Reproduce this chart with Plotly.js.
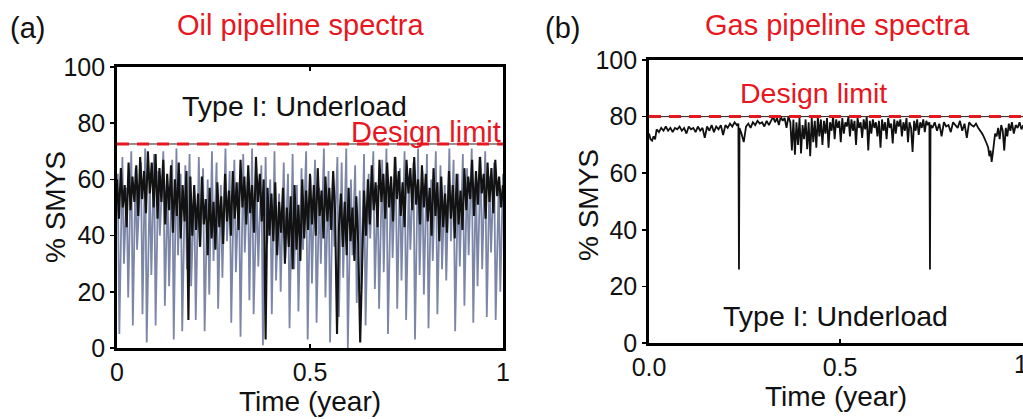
<!DOCTYPE html>
<html>
<head>
<meta charset="utf-8">
<script src="https://cdn.plot.ly/plotly-3.0.1.min.js"></script>
<style>html,body{margin:0;padding:0;background:#fff;}#chart{width:1023px;height:419px;}</style>
</head>
<body>
<div id="chart"></div>
<script>
// ---------- Data ----------
// (a) Oil pipeline: light-grey spikes (time, %SMYS)
const oilLightT = [0.000,
 0.002,0.006, 0.014,0.018, 0.025,0.029, 0.037,0.041, 0.048,0.052, 0.062,0.066, 0.073,0.077, 0.085,0.089, 0.096,0.100, 0.107,0.111,
 0.120,0.124, 0.131,0.135, 0.143,0.147, 0.154,0.158, 0.165,0.169, 0.177,0.181, 0.188,0.192, 0.200,0.204, 0.212,0.216, 0.223,0.227,
 0.235,0.239, 0.246,0.250, 0.258,0.262, 0.269,0.273, 0.281,0.285, 0.292,0.296, 0.304,0.308, 0.316,0.320, 0.327,0.331, 0.339,0.343,
 0.350,0.354, 0.362,0.366, 0.374,0.378, 0.385,0.389, 0.397,0.401, 0.408,0.412, 0.420,0.424, 0.432,0.436, 0.443,0.447, 0.455,0.459,
 0.466,0.470, 0.478,0.482, 0.490,0.494, 0.501,0.505, 0.513,0.517, 0.524,0.528, 0.536,0.540, 0.548,0.552, 0.559,0.563, 0.571,0.575,
 0.582,0.586, 0.594,0.598, 0.606,0.610, 0.617,0.621, 0.629,0.633, 0.640,0.644, 0.652,0.656, 0.664,0.668, 0.675,0.679, 0.687,0.691,
 0.698,0.702, 0.710,0.714, 0.722,0.726, 0.733,0.737, 0.745,0.749, 0.756,0.760, 0.768,0.772, 0.780,0.784, 0.791,0.795, 0.803,0.807,
 0.814,0.818, 0.826,0.830, 0.838,0.842, 0.849,0.853, 0.861,0.865, 0.872,0.876, 0.884,0.888, 0.896,0.900, 0.907,0.911, 0.919,0.923,
 0.930,0.934, 0.942,0.946, 0.954,0.958, 0.965,0.969, 0.977,0.981, 0.989,0.993,
 1.000];
const oilLightV = [52,
 62,5, 68,30, 57,18, 70,8, 64,35, 66,12, 71,2, 60,26, 69,8, 63,40,
 70,15, 58,22, 67,3, 71,33, 62,6, 65,28, 69,22, 56,10, 68,36, 64,6,
 60,19, 70,31, 66,14, 58,25, 71,38, 63,9, 67,27, 59,4, 69,34, 62,17,
 71,12, 57,29, 65,1, 68,37, 60,12, 70,24, 55,20, 66,32, 62,7, 69,28,
 58,13, 64,35, 70,3, 61,23, 67,9, 57,30, 71,18, 63,2, 59,36, 68,11,
 66,25, 71,0, 60,33, 65,16, 56,21, 69,8, 62,39, 70,21, 58,14, 67,27,
 71,5, 61,32, 68,14, 64,24, 70,10, 59,35, 66,3, 71,26, 63,19, 69,7,
 60,31, 70,12, 65,28, 58,24, 71,38, 67,6, 62,29, 69,15, 64,33, 71,9,
 63,22, 68,28, 70,11, 61,34, 66,10, 59,20,
 62];
// (a) Oil pipeline: dense dark core (time, %SMYS)
const oilDarkT = [
 0.000,0.005,0.010,0.015,0.020,0.025,0.030,0.035,0.040,0.045,0.050,0.055,0.060,0.065,0.070,0.075,0.080,0.085,0.090,0.095,
 0.100,0.105,0.110,0.115,0.120,0.125,0.130,0.135,0.140,0.145,0.150,0.155,0.160,0.165,0.170,0.175,0.180,0.185,0.190,0.195,
 0.200,0.205,0.210,0.215,0.220,0.225,0.230,0.235,0.240,0.245,0.250,0.255,0.260,0.265,0.270,0.275,0.280,0.285,0.290,0.295,
 0.300,0.305,0.310,0.315,0.320,0.325,0.330,0.335,0.340,0.345,0.350,0.355,0.360,0.365,0.370,0.375,0.380,0.385,0.390,0.395,
 0.400,0.405,0.410,0.415,0.420,0.425,0.430,0.435,0.440,0.445,0.450,0.455,0.460,0.465,0.470,0.475,0.480,0.485,0.490,0.495,
 0.500,0.505,0.510,0.515,0.520,0.525,0.530,0.535,0.540,0.545,0.550,0.555,0.560,0.565,0.570,0.575,0.580,0.585,0.590,0.595,
 0.600,0.605,0.610,0.615,0.620,0.625,0.630,0.635,0.640,0.645,0.650,0.655,0.660,0.665,0.670,0.675,0.680,0.685,0.690,0.695,
 0.700,0.705,0.710,0.715,0.720,0.725,0.730,0.735,0.740,0.745,0.750,0.755,0.760,0.765,0.770,0.775,0.780,0.785,0.790,0.795,
 0.800,0.805,0.810,0.815,0.820,0.825,0.830,0.835,0.840,0.845,0.850,0.855,0.860,0.865,0.870,0.875,0.880,0.885,0.890,0.895,
 0.900,0.905,0.910,0.915,0.920,0.925,0.930,0.935,0.940,0.945,0.950,0.955,0.960,0.965,0.970,0.975,0.980,0.985,0.990,0.995,
 1.000];
const oilDarkV = [
 60,46,64,50,58,43,66,49,61,52, 65,47,68,53,63,48,70,55,66,50,
 69,46,64,52,67,44,62,49,65,41, 60,47,66,39,58,45,63,10,61,40,
 58,42,55,36,61,44,53,33,57,39, 52,35,59,43,54,37,62,45,56,40,
 63,46,59,42,67,50,61,44,65,48, 58,41,68,52,62,45,60,3,57,40,
 55,38,59,33,52,41,57,30,50,36, 54,28,58,35,51,31,60,39,56,42,
 62,44,58,40,64,47,56,39,61,45, 57,42,63,48,5,43,55,36,52,33,
 57,38,50,31,54,37,2,34,56,40, 60,44,65,49,59,43,67,52,62,46,
 66,50,61,45,68,53,63,47,59,43, 67,55,64,49,68,51,60,44,65,50,
 62,45,57,40,64,47,59,38,61,43, 55,41,63,46,58,39,62,44,56,42,
 64,49,61,53,67,47,63,51,68,55, 62,46,66,52,64,48,67,54,61,50,
 58];
const oilLimit = 72.6;

// (b) Gas pipeline (time, %SMYS)
const gasT = [0,0.004,0.008,0.012,0.016,0.02,0.026,0.032,0.038,0.044,0.05,0.056,0.062,0.068,0.074,0.08,0.086,0.092,0.098,0.104,0.11,0.116,0.122,0.128,0.134,0.14,0.146,0.152,0.158,0.164,0.17,0.176,0.182,0.188,0.194,0.2,0.206,0.212,0.218,0.224,0.23,
 0.234,0.2355,0.237,
 0.242,0.248,0.254,0.26,0.266,0.272,0.278,0.284,0.29,0.296,0.302,0.308,0.314,0.32,
 0.325,0.33,0.335,0.34,0.345,0.35,0.355,0.36,0.365,0.37,
 0.374,0.378,0.382,0.386,0.39,0.394,0.398,0.402,0.406,0.41,0.414,0.418,0.422,0.426,0.43,0.434,0.438,0.442,0.446,0.45,0.454,0.458,
 0.462,0.466,0.47,0.474,0.478,0.482,0.486,0.49,0.494,0.498,0.502,0.506,0.51,0.514,0.518,0.522,0.526,0.53,0.534,0.538,0.542,0.546,0.55,0.554,0.558,0.562,0.566,0.57,0.574,0.578,0.582,0.586,0.59,0.594,0.598,
 0.602,0.606,0.61,0.614,0.618,0.622,0.626,0.63,0.634,0.638,0.642,0.646,0.65,0.654,0.658,0.662,0.666,0.67,0.674,0.678,0.682,0.686,0.69,0.694,0.698,0.702,0.706,0.71,0.714,0.718,0.722,0.726,0.73,
 0.734,0.7355,0.737,
 0.742,0.748,0.754,0.76,0.766,0.772,0.778,0.784,0.79,0.796,0.802,0.808,0.814,0.82,0.826,0.832,0.838,0.844,0.85,0.856,0.862,0.868,
 0.872,0.876,0.88,0.884,0.888,0.891,0.894,0.897,0.9,0.903,0.906,0.91,0.914,0.918,0.922,0.926,0.93,0.934,0.938,0.942,0.946,0.95,0.955,0.96,0.965,0.97,0.975,0.98];
const gasV = [74,72,71.5,73,72,75.5,74.5,76,75,76.5,75,76,74.5,76,75.5,76.5,75,76,74,76.5,75.5,76,74.5,76.5,75,76,72.5,76.5,75,77,74.5,76.5,75.5,77,73.5,77,76,77.5,76.5,78,77,
 77.5,26,76,
 74,71,76.5,77.5,76,78,77,78.5,77.5,78,76.5,78.5,77,79,
 80,78,79.5,77,80,78.5,79.5,76,80,78,
 68,79,66.5,78,70,79.5,67,77,72,79,68.5,78,66,79.5,71,78.5,69,80,73,79,70,78.5,
 74,79.5,69,78,75,80,72,79,76,78.5,71,79.5,74,78,76.5,80,73,79,75,78.5,70,79.5,76,78,72.5,79,75.5,80,68,78.5,74,79,76,78,73,
 78.5,69,79,75,78,72,79.5,76,77.5,70.5,79,74,78.5,76.5,79,73,78,75,79.5,71,78,76,67.5,78.5,75,79,73.5,78,76,79,74.5,78.5,77,
 78,26,77,
 76,78,75,77.5,73,78,76.5,77,74.5,78,77,76,78.5,75,77.5,72.5,78,77,76.5,77.5,76,75,
 74,73,72,70.5,69,66,68,64,67,71,74,73,76,72,77,75,68,76,73,77.5,75,78,74,77,76,78,75.5,77];
const gasLimit = 80;

const yTicks = [0,20,40,60,80,100];
const oilXTicks = [0,0.5,1];
const oilXText = ['0','0.5','1'];
const gasXTicks = [0,0.5];
const gasXText = ['0.0','0.5'];

// ---------- Styling ----------
const FONT = 'Liberation Sans, Arial, sans-serif';
const RED = '#e8161e';
const INK = '#111';
const W = 1023, H = 419;
const px = x => x / W;          // paper x from pixel
const py = y => 1 - y / H;      // paper y from pixel

const traces = [
  {x: oilLightT, y: oilLightV, xaxis: 'x', yaxis: 'y', mode: 'lines',
   line: {color: '#7c86a6', width: 1.8}, hoverinfo: 'skip'},
  {x: oilDarkT, y: oilDarkV, xaxis: 'x', yaxis: 'y', mode: 'lines',
   line: {color: '#121212', width: 2.1}, hoverinfo: 'skip'},
  {x: gasT, y: gasV, xaxis: 'x2', yaxis: 'y2', mode: 'lines',
   line: {color: '#101010', width: 1.8}, hoverinfo: 'skip'}
];

const axisCommon = {
  showgrid: false, zeroline: false, showline: true, linecolor: '#000',
  tickfont: {family: FONT, size: 25, color: INK},
  tickcolor: '#000', ticklen: 4, tickwidth: 1.5
};

function ann(text, x, y, size, color, extra) {
  return Object.assign({text: text, xref: 'paper', yref: 'paper', x: px(x), y: py(y), showarrow: false,
    xanchor: 'center', yanchor: 'middle', font: {family: FONT, size: size, color: color}}, extra || {});
}

const layout = {
  width: W, height: H,
  margin: {l: 0, r: 0, t: 0, b: 0},
  paper_bgcolor: '#fff', plot_bgcolor: '#fff',
  showlegend: false,
  font: {family: FONT, color: INK},
  xaxis: Object.assign({}, axisCommon, {
    domain: [px(117), px(503)], range: [0, 1], anchor: 'y',
    tickvals: oilXTicks, ticktext: oilXText, ticks: 'inside', mirror: 'ticks', linewidth: 2.8,
    title: {text: 'Time (year)', font: {family: FONT, size: 28, color: INK}, standoff: 4}
  }),
  yaxis: Object.assign({}, axisCommon, {
    domain: [py(348), py(67)], range: [0, 100], anchor: 'x',
    tickvals: yTicks, ticks: 'outside', mirror: true, linewidth: 2.8
  }),
  xaxis2: Object.assign({}, axisCommon, {
    domain: [px(649), 1], range: [0, (1023 - 649) / (1031 - 649)], anchor: 'y2',
    tickvals: gasXTicks, ticktext: gasXText, ticks: 'inside', mirror: true, linewidth: 2.8,
    title: {text: 'Time (year)', font: {family: FONT, size: 28, color: INK}, standoff: 4}
  }),
  yaxis2: Object.assign({}, axisCommon, {
    domain: [py(343), py(60)], range: [0, 100], anchor: 'x2',
    tickvals: yTicks, ticks: 'outside', linewidth: 2.8
  }),
  shapes: [
    {type: 'line', xref: 'x', yref: 'y', x0: 0, x1: 1, y0: oilLimit, y1: oilLimit,
     line: {color: '#222', width: 1}},
    {type: 'line', xref: 'x', yref: 'y', x0: 0, x1: 1, y0: oilLimit, y1: oilLimit,
     line: {color: RED, width: 3, dash: '12px,8px'}},
    {type: 'line', xref: 'x2', yref: 'y2', x0: 0, x1: 1, y0: gasLimit, y1: gasLimit,
     line: {color: '#222', width: 1}},
    {type: 'line', xref: 'x2', yref: 'y2', x0: 0, x1: 1, y0: gasLimit, y1: gasLimit,
     line: {color: RED, width: 3, dash: '12px,8px'}}
  ],
  annotations: [
    ann('(a)', 27, 28, 29, INK),
    ann('Oil pipeline spectra', 300, 25, 29, RED),
    ann('(b)', 562, 28, 29, INK),
    ann('Gas pipeline spectra', 837, 25, 29, RED),
    ann('Type I: Underload', 294, 106, 28.5, INK),
    ann('Design limit', 503, 132, 29, RED, {xanchor: 'right'}),
    ann('Design limit', 813, 93, 28.5, RED),
    ann('Type I: Underload', 835, 316, 28.5, INK),
    ann('% SMYS', 56, 207, 28, INK, {textangle: -90}),
    ann('% SMYS', 588, 205, 28, INK, {textangle: -90}),
    ann('1.0', 1031, 364, 25, INK)
  ]
};

Plotly.newPlot('chart', traces, layout, {staticPlot: true, displayModeBar: false});
</script>
</body>
</html>
